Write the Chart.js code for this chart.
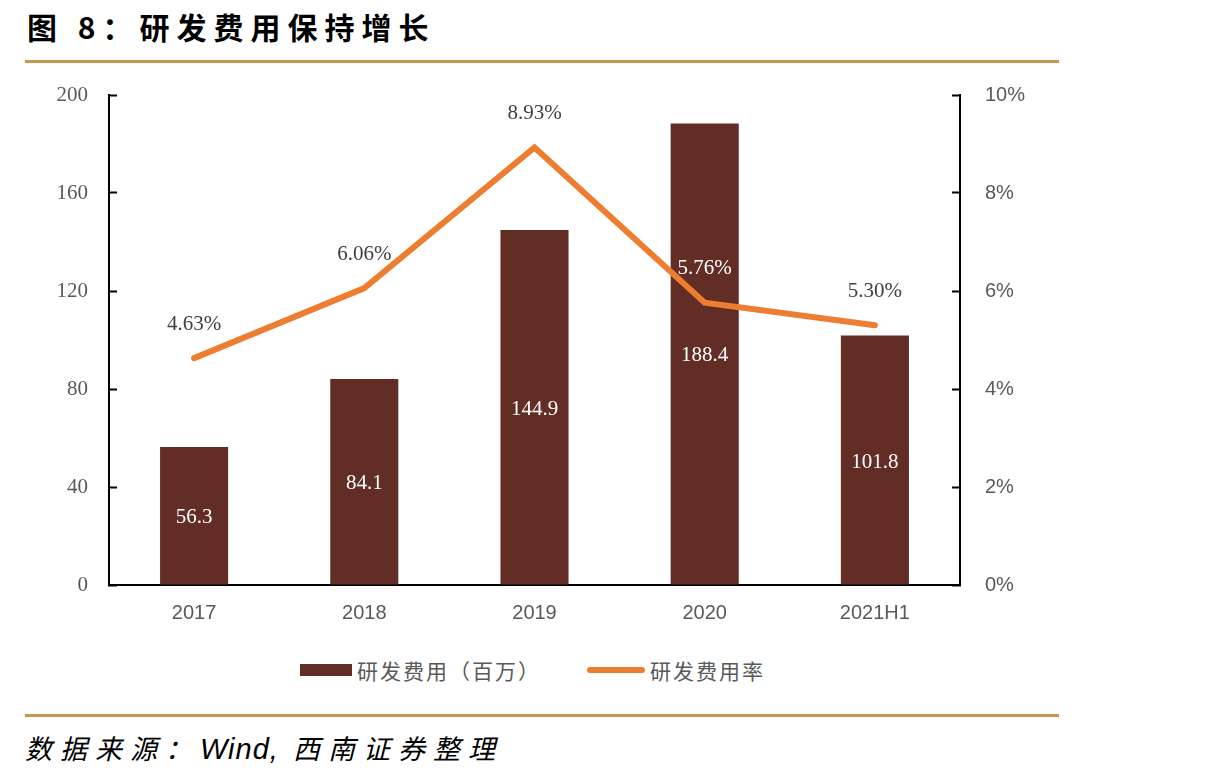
<!DOCTYPE html>
<html><head><meta charset="utf-8">
<script src="https://cdn.jsdelivr.net/npm/chart.js@4.4.1/dist/chart.umd.min.js"></script>
<style>
html,body{margin:0;padding:0;background:#fff;width:1210px;height:783px;overflow:hidden;position:relative;}
#title{position:absolute;left:27px;top:4px;font-family:"Noto Sans CJK SC";font-weight:700;font-size:30px;letter-spacing:7px;color:#000;white-space:nowrap;}
.rule{position:absolute;left:25px;width:1034px;height:3px;background:#C9964F;}
#wrap{position:absolute;left:0;top:62px;width:1090px;height:563px;}
#legend{position:absolute;top:656px;left:0;width:1210px;height:28px;font-family:"Noto Sans CJK SC";font-size:21px;color:#595959;letter-spacing:2px;}
.lg{position:absolute;top:0;white-space:nowrap;line-height:28px;}
#src{position:absolute;left:25px;top:728px;font-family:"Noto Sans CJK SC";font-style:italic;font-size:27px;letter-spacing:8px;color:#000;white-space:nowrap;}
</style></head>
<body>
<div id="title">图 8：研发费用保持增长</div>
<div class="rule" style="top:60px"></div>
<div id="wrap"><canvas id="c"></canvas></div>
<div id="legend">
  <div style="position:absolute;left:300px;top:8px;width:52px;height:12px;background:#612D25"></div>
  <div class="lg" style="left:357px">研发费用（百万）</div>
  <div style="position:absolute;left:587px;top:11px;width:58px;height:6px;border-radius:3px;background:#ED7D31"></div>
  <div class="lg" style="left:650px">研发费用率</div>
</div>
<div class="rule" style="top:714px"></div>
<div id="src">数据来源：<span style="font-family:'Liberation Sans';letter-spacing:1px;font-size:29px">Wind,</span> 西南证券整理</div>
<script>
const categories = ["2017","2018","2019","2020","2021H1"];
const rdExpense = [56.3, 84.1, 144.9, 188.4, 101.8];
const rdRatio = [4.63, 6.06, 8.93, 5.76, 5.30];
const leftTicks = [0,40,80,120,160,200];
const rightTicks = [0,2,4,6,8,10];
const barColor = "#612D25";
const lineColor = "#ED7D31";

const labelPlugin = {
  id: 'labels',
  afterDatasetsDraw(chart){
    const ctx = chart.ctx;
    ctx.save();
    ctx.font = '21px "Liberation Serif"';
    ctx.textAlign = 'center';
    ctx.textBaseline = 'middle';
    const bm = chart.getDatasetMeta(0);
    bm.data.forEach((el,i)=>{
      ctx.fillStyle = '#FFFFFF';
      const y = (el.y + el.base)/2;
      ctx.fillText(rdExpense[i].toFixed(1), el.x, y+2);
    });
    const lm = chart.getDatasetMeta(1);
    lm.data.forEach((el,i)=>{
      ctx.fillStyle = (i===3) ? '#FFFFFF' : '#404040';
      ctx.fillText(rdRatio[i].toFixed(2)+'%', el.x, el.y-34);
    });
    ctx.restore();
  }
};

function fixY(w){ return function(s){ s.width = w; s.paddingTop = 0; s.paddingBottom = 0; }; }

new Chart(document.getElementById('c'), {
  data: {
    labels: categories,
    datasets: [
      {type:'bar', label:'研发费用（百万）', data: rdExpense, backgroundColor: barColor, yAxisID:'y', categoryPercentage:1, barPercentage:0.4, order:2},
      {type:'line', label:'研发费用率', data: rdRatio, borderColor: lineColor, backgroundColor: lineColor, borderWidth:6, pointRadius:0, tension:0, yAxisID:'y1', order:1, borderCapStyle:'round', borderJoinStyle:'miter'}
    ]
  },
  options: {
    responsive:true, maintainAspectRatio:false, animation:false,
    layout:{padding:{left:0,right:0,top:33,bottom:0}},
    plugins:{legend:{display:false}, tooltip:{enabled:false}},
    scales:{
      x:{
        grid:{display:false, drawTicks:false},
        border:{display:true,color:'#000',width:2},
        ticks:{color:'#595959', font:{family:'"Liberation Sans"', size:20}, padding:16},
        afterFit(s){ s.height = 40; s.paddingLeft = 0; s.paddingRight = 0; }
      },
      y:{
        position:'left', min:0, max:200,
        afterBuildTicks(s){ s.ticks = leftTicks.map(v=>({value:v})); },
        grid:{drawOnChartArea:false, drawTicks:true, tickLength:-8, tickWidth:2, tickColor:'#000'},
        border:{display:true,color:'#000',width:2},
        ticks:{color:'#595959', font:{family:'"Liberation Serif"', size:21}, padding:29},
        afterFit: fixY(109)
      },
      y1:{
        position:'right', min:0, max:10,
        afterBuildTicks(s){ s.ticks = rightTicks.map(v=>({value:v})); },
        grid:{drawOnChartArea:false, drawTicks:true, tickLength:-8, tickWidth:2, tickColor:'#000'},
        border:{display:true,color:'#000',width:2},
        ticks:{color:'#595959', font:{family:'"Liberation Sans"', size:20}, padding:33, callback:(v)=>v+'%'},
        afterFit: fixY(130)
      }
    }
  },
  plugins:[labelPlugin]
});
</script>
</body></html>
